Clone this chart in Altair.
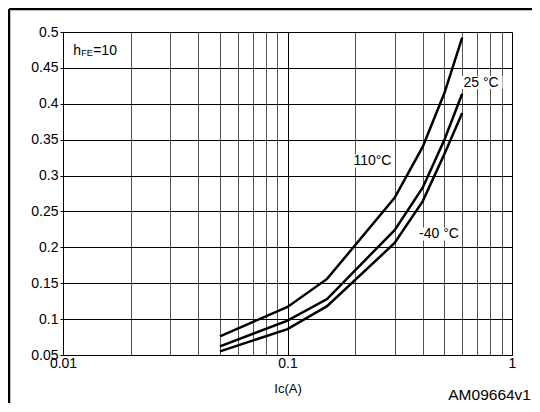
import altair as alt
import pandas as pd

# Collector current (A) sample points
ic_values = [0.05, 0.1, 0.15, 0.3, 0.4, 0.5, 0.6]
# VCE(sat) (V) for each temperature
vce_110 = [0.076, 0.117, 0.156, 0.269, 0.340, 0.415, 0.492]
vce_25 = [0.062, 0.098, 0.128, 0.224, 0.283, 0.350, 0.414]
vce_m40 = [0.055, 0.086, 0.118, 0.206, 0.264, 0.330, 0.387]

x_ticks = [0.01, 0.02, 0.03, 0.04, 0.05, 0.06, 0.07, 0.08, 0.09,
           0.1, 0.2, 0.3, 0.4, 0.5, 0.6, 0.7, 0.8, 0.9, 1]
y_ticks = [0.05, 0.1, 0.15, 0.2, 0.25, 0.3, 0.35, 0.4, 0.45, 0.5]

# Curve labels (text, centre in data coordinates)
label_text = ["25 °C", "110°C", "-40 °C"]
label_x = [0.728, 0.239, 0.473]
label_y = [0.4296, 0.3203, 0.2186]

note_x = [0.0111]
note_y = [0.4735]

FONT = "Liberation Sans"
W, H = 449, 323
PAD_L, PAD_T, PAD_R, PAD_B = 55, 24, 20, 48

rows = []
for name, vals in [("110°C", vce_110), ("25°C", vce_25), ("-40°C", vce_m40)]:
    for i, v in zip(ic_values, vals):
        rows.append({"series": name, "ic": i, "vce": v})
curves_df = pd.DataFrame(rows)
labels_df = pd.DataFrame({"text": label_text, "x": label_x, "y": label_y})
note_df = pd.DataFrame({"x": note_x, "y": note_y})

xscale = alt.Scale(type="log", domain=[0.01, 1], nice=False)
yscale = alt.Scale(domain=[0.05, 0.5], nice=False, zero=False)

x_axis = alt.Axis(
    values=x_ticks,
    labelExpr="datum.value == 0.01 ? '0.01' : datum.value == 0.1 ? '0.1' : datum.value == 1 ? '1' : ''",
    grid=True,
    gridColor={"condition": {"test": "datum.value == 0.01 || datum.value == 0.1 || datum.value == 1",
                             "value": "#000000"}, "value": "#555555"},
    gridWidth=1,
    ticks=False,
    domainColor="#000000",
    labelColor="#000000",
    labelFont=FONT,
    labelFontSize=14,
    labelPadding=1,
    labelFlush=False,
    labelOverlap=False,
    title="Ic(A)",
    titleFont=FONT,
    titleFontSize=13,
    titleFontWeight="normal",
    titleColor="#000000",
    titlePadding=12,
)
y_axis = alt.Axis(
    values=y_ticks,
    format="~g",
    grid=True,
    gridColor="#000000",
    gridWidth=1,
    tickSize=3,
    tickColor="#000000",
    domainColor="#000000",
    labelColor="#000000",
    labelFont=FONT,
    labelFontSize=14,
    labelPadding=2,
    labelFlush=False,
    labelOverlap=False,
    title=None,
)


def X(field):
    return alt.X(field, type="quantitative", scale=xscale, axis=x_axis)


def Y(field):
    return alt.Y(field, type="quantitative", scale=yscale, axis=y_axis)


curves = alt.Chart(curves_df).mark_line(color="black", strokeWidth=2.5, clip=True).encode(
    x=X("ic"),
    y=Y("vce"),
    detail="series:N",
)

boxes = alt.Chart(labels_df).mark_point(
    shape="M-1,-0.3H1V0.3H-1Z", filled=True, fill="white", opacity=1, strokeWidth=0
).encode(
    x=X("x"),
    y=Y("y"),
    size=alt.value(1850),
)

texts = alt.Chart(labels_df).mark_text(
    font=FONT, fontSize=14, color="black", align="center", baseline="middle"
).encode(
    x=X("x"),
    y=Y("y"),
    text="text:N",
)

note_h = alt.Chart(note_df).mark_text(
    font=FONT, fontSize=14, color="black", align="left", baseline="middle", text="h"
).encode(x=X("x"), y=Y("y"))
note_fe = alt.Chart(note_df).mark_text(
    font=FONT, fontSize=9, color="black", align="left", baseline="middle", text="FE", dx=8, dy=2
).encode(x=X("x"), y=Y("y"))
note_eq = alt.Chart(note_df).mark_text(
    font=FONT, fontSize=14, color="black", align="left", baseline="middle", text="=10", dx=20
).encode(x=X("x"), y=Y("y"))

frame_top = alt.Chart(note_df).mark_rule(color="black", strokeWidth=2.5).encode(
    x=alt.value(-PAD_L + 1), x2=alt.value(W + PAD_R), y=alt.value(-PAD_T + 1)
)
frame_left = alt.Chart(note_df).mark_rule(color="black", strokeWidth=2.5).encode(
    x=alt.value(-PAD_L + 1), y=alt.value(-PAD_T + 1), y2=alt.value(H + PAD_B)
)

chart = alt.layer(
    curves, boxes, texts, note_h, note_fe, note_eq, frame_top, frame_left
).properties(
    width=W,
    height=H,
    padding={"left": PAD_L, "top": PAD_T, "right": PAD_R, "bottom": PAD_B},
    autosize=alt.AutoSizeParams(type="none"),
    title=alt.TitleParams(
        text="AM09664v1", orient="bottom", anchor="end", frame="group", font=FONT, fontSize=15.5,
        fontWeight="normal", color="black", dx=19, offset=-16,
    ),
).configure_view(strokeWidth=0).configure(background="white")

chart.save("out.html", embed_options={"renderer": "svg", "actions": False})
